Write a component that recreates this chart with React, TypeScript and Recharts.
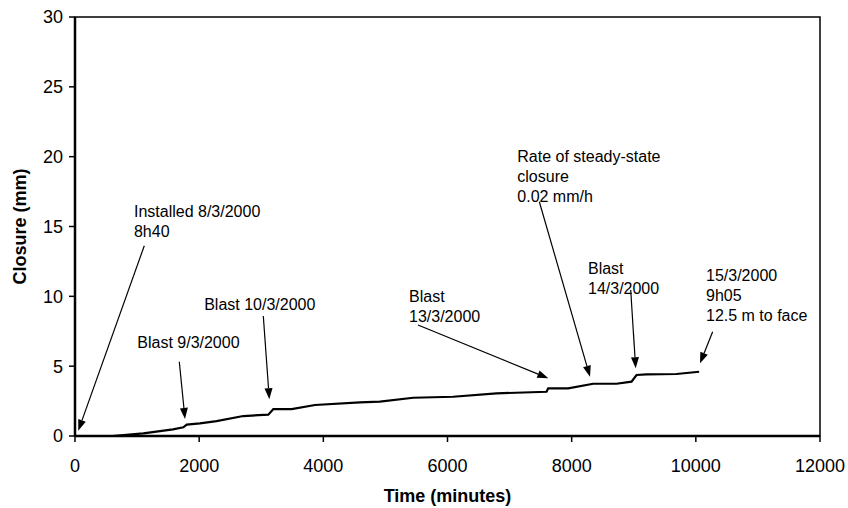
import { LineChart, Line, XAxis, YAxis, ReferenceLine, ReferenceDot, ReferenceArea } from 'recharts';

const FONT = '"Liberation Sans", Arial, Helvetica, sans-serif';

// time (minutes) / closure (mm)
const timeMin = [600, 1100, 1578, 1745, 1800, 2013, 2280, 2710, 3114, 3195, 3490, 3865, 4590, 4911, 5448, 6092, 6790, 7595, 7622, 7944, 8346, 8722, 8964, 9045, 9206, 9689, 10053];
const closureMm = [0, 0.19, 0.48, 0.62, 0.81, 0.9, 1.07, 1.43, 1.53, 1.93, 1.93, 2.22, 2.41, 2.46, 2.74, 2.81, 3.05, 3.17, 3.41, 3.41, 3.74, 3.74, 3.89, 4.37, 4.41, 4.44, 4.6];

const xTicks = [0, 2000, 4000, 6000, 8000, 10000, 12000];
const yTicks = [0, 5, 10, 15, 20, 25, 30];

// annotations: text block (first line centre) + arrow from -> to, all in data units
const noteText = [
  ['Installed 8/3/2000', '8h40'],
  ['Blast 9/3/2000'],
  ['Blast 10/3/2000'],
  ['Blast', '13/3/2000'],
  ['Rate of steady-state', 'closure', '0.02 mm/h'],
  ['Blast', '14/3/2000'],
  ['15/3/2000', '9h05', '12.5 m to face'],
];
const noteX = [950, 1003, 2081, 5380, 7124, 8263, 10164];
const noteY = [16.11, 6.75, 9.45, 10.02, 20.05, 12.0, 11.53];
const arrowFrom = [[1116, 13.62], [1680, 5.32], [3033, 8.59], [5525, 7.95], [7479, 16.77], [8951, 10.45], [10271, 7.47]];
const arrowTo = [[53, 0.38], [1772, 1.22], [3130, 2.63], [7624, 4.13], [8295, 4.25], [9031, 4.85], [10067, 5.2]];

const data = timeMin.map((t, i) => ({ t, c: closureMm[i] }));

const ArrowShape = (p: any) => {
  const { x1, y1, x2, y2 } = p;
  const ang = Math.atan2(y2 - y1, x2 - x1);
  const len = 11;
  const half = 4;
  const bx = x2 - len * Math.cos(ang);
  const by = y2 - len * Math.sin(ang);
  const px = -Math.sin(ang) * half;
  const py = Math.cos(ang) * half;
  return (
    <g>
      <line x1={x1} y1={y1} x2={bx} y2={by} stroke="#000" strokeWidth={1.2} />
      <polygon points={`${x2},${y2} ${bx + px},${by + py} ${bx - px},${by - py}`} fill="#000" />
    </g>
  );
};

const noteShape = (lines: string[]) => (p: any) => (
  <text x={p.cx} y={p.cy} fontFamily={FONT} fontSize={16} fill="#000" dominantBaseline="central">
    {lines.map((s, k) => (
      <tspan key={k} x={p.cx} dy={k === 0 ? 0 : 20}>{s}</tspan>
    ))}
  </text>
);

export default function App() {
  return (
    <div style={{ position: 'absolute', left: 0, top: 0, background: '#fff' }}>
      <LineChart width={848} height={508} data={data} margin={{ top: 17, right: 28, left: 15, bottom: 12 }}>
        <ReferenceArea x1={0} x2={12000} y1={0} y2={30} fill="none" stroke="#000" strokeWidth={1.5} ifOverflow="visible" />
        <XAxis
          type="number"
          dataKey="t"
          domain={[0, 12000]}
          ticks={xTicks}
          height={60}
          stroke="#000"
          strokeWidth={2.5}
          tickSize={6}
          tickMargin={17}
          tickLine={{ stroke: '#000', strokeWidth: 1.5 }}
          tick={{ fill: '#000', fontSize: 18, fontFamily: FONT }}
          label={{
            content: (props: any) => {
              const vb = props.viewBox;
              return (
                <text x={vb.x + vb.width / 2} y={496} textAnchor="middle" dominantBaseline="central" fontFamily={FONT} fontSize={18} fontWeight="bold" fill="#000">
                  Time (minutes)
                </text>
              );
            },
          }}
        />
        <YAxis
          type="number"
          dataKey="c"
          domain={[0, 30]}
          ticks={yTicks}
          width={60}
          stroke="#000"
          strokeWidth={2.5}
          tickSize={6}
          tickMargin={6}
          tickLine={{ stroke: '#000', strokeWidth: 1.5 }}
          tick={{ fill: '#000', fontSize: 18, fontFamily: FONT }}
          label={{
            content: (props: any) => {
              const vb = props.viewBox;
              const cx = 20;
              const cy = vb.y + vb.height / 2;
              return (
                <text x={cx} y={cy} transform={`rotate(-90 ${cx} ${cy})`} textAnchor="middle" dominantBaseline="central" fontFamily={FONT} fontSize={18} fontWeight="bold" fill="#000">
                  Closure (mm)
                </text>
              );
            },
          }}
        />
        <Line type="linear" dataKey="c" stroke="#000" strokeWidth={2.2} dot={false} isAnimationActive={false} />
        {noteText.map((lines, i) => (
          <ReferenceLine
            key={`a${i}`}
            segment={[{ x: arrowFrom[i][0], y: arrowFrom[i][1] }, { x: arrowTo[i][0], y: arrowTo[i][1] }]}
            ifOverflow="visible"
            shape={ArrowShape}
          />
        ))}
        {noteText.map((lines, i) => (
          <ReferenceDot key={`t${i}`} x={noteX[i]} y={noteY[i]} r={0} ifOverflow="visible" shape={noteShape(lines)} />
        ))}
      </LineChart>
    </div>
  );
}
